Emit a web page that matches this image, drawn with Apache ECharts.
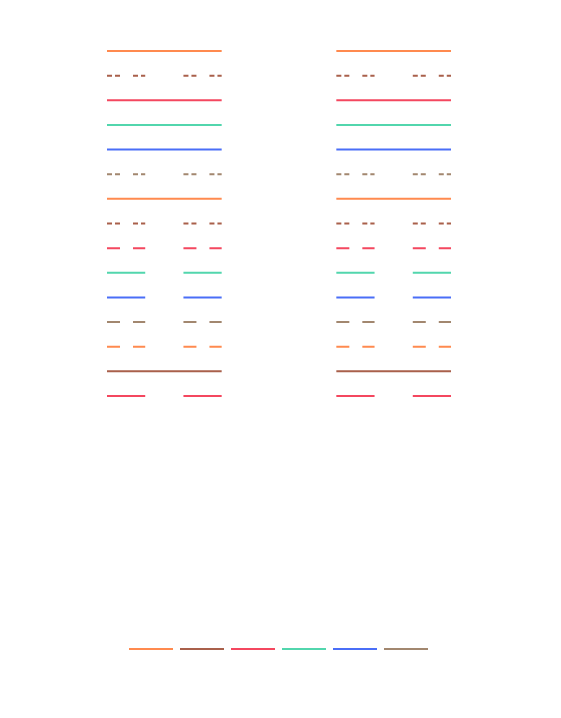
<!DOCTYPE html>
<html>
<head>
<meta charset="utf-8">
<script src="https://cdn.jsdelivr.net/npm/echarts@6/dist/echarts.min.js"></script>
<style>
html,body{margin:0;padding:0;background:#fff;}
#chart{width:561px;height:718px;}
</style>
</head>
<body>
<div id="chart"></div>
<script>
// ---- data ----
const seriesNames = ['Series 1', 'Series 2', 'Series 3', 'Series 4', 'Series 5', 'Series 6'];
const rowValues = [1, 2, 3, 4, 5, 6, 7, 8, 9, 10, 11, 12, 13, 14, 15];
const rowSeries = [0, 1, 2, 3, 4, 5, 0, 1, 2, 3, 4, 5, 0, 1, 2];
const rowPattern = ['solid', 'dashdot', 'solid', 'solid', 'solid', 'dashdot', 'solid', 'dashdot', 'dash', 'solid', 'solid', 'dash', 'dash', 'solid', 'solid'];
const rowBroken = [false, true, false, false, false, true, false, true, true, true, true, true, true, false, true];
const xLeft = [0, 1, 2, 3];
const xRight = [6, 7, 8, 9];

// ---- styles ----
const palette = ['#ff8a4f', '#a9604b', '#f4475f', '#52d6ad', '#4a6ef7', '#a2876f'];
const dashMap = { solid: 'solid', dash: [13, 13], dashdot: [5, 3, 5, 13] };

function chunk(xs, y, broken) {
  const pts = xs.map(x => [x, y]);
  if (broken) return [pts[0], pts[1], null, pts[2], pts[3]];
  return pts;
}

const series = rowValues.map((y, i) => {
  const data = chunk(xLeft, y, rowBroken[i]).concat([null], chunk(xRight, y, rowBroken[i]));
  return {
    name: seriesNames[rowSeries[i]],
    type: 'line',
    data: data,
    symbol: 'none',
    clip: false,
    connectNulls: false,
    animation: false,
    color: palette[rowSeries[i]],
    lineStyle: { width: 2, type: dashMap[rowPattern[i]], color: palette[rowSeries[i]] }
  };
});

const chart = echarts.init(document.getElementById('chart'), null, { renderer: 'canvas' });
chart.setOption({
  animation: false,
  color: palette,
  grid: { left: 107, right: 110, top: 51, height: 345 },
  xAxis: { type: 'value', min: 0, max: 9, show: false },
  yAxis: { type: 'value', min: 1, max: 15, inverse: true, show: false },
  legend: {
    data: seriesNames,
    top: 643,
    left: 124,
    icon: 'rect',
    itemWidth: 44,
    itemHeight: 2,
    itemGap: 7,
    formatter: function () { return ''; }
  },
  series: series
});
</script>
</body>
</html>
